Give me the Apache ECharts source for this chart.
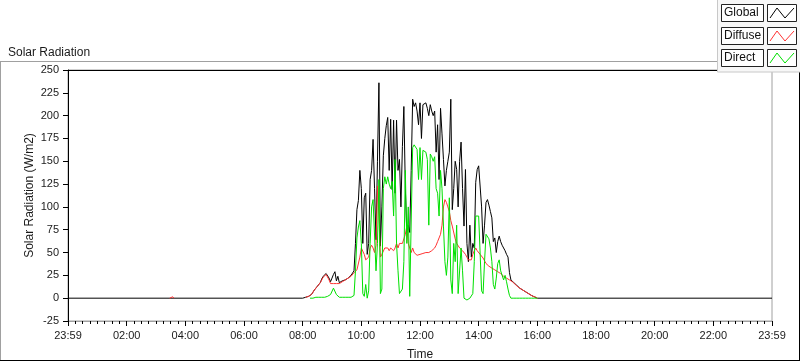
<!DOCTYPE html>
<html>
<head>
<meta charset="utf-8">
<script src="https://cdn.jsdelivr.net/npm/echarts@6.0.0/dist/echarts.min.js"></script>
<style>
  html, body { margin: 0; padding: 0; background: #fff; }
  #chart { width: 800px; height: 361px; }
</style>
</head>
<body>
<div id="chart"></div>
<script>
// 日间采样：从 08:00 开始，每 3 分钟一个点
var sampleStart = 480;
var sampleStep = 3;

// Global (W/m2)
var globalDay = [
    0, 0, 1, 2, 2, 3, 4, 6, 9,
    10, 13, 15, 17, 21, 24, 26, 27, 26, 22,
    18, 22, 26, 29, 19, 24, 17, 18, 19, 19,
    20, 21, 22, 24, 25, 27, 30, 60, 97, 107,
    140, 120, 60, 110, 115, 48, 60, 130, 140, 174,
    120, 64, 150, 236, 57, 100, 156, 175, 189, 198,
    140, 196, 119, 195, 115, 195, 140, 152, 100, 166,
    210, 120, 72, 80, 72, 140, 218, 210, 214, 205,
    190, 214, 175, 212, 210, 214, 208, 200, 212, 205,
    200, 205, 160, 190, 130, 208, 180, 152, 123, 140,
    150, 160, 218, 97, 120, 150, 141, 100, 150, 171,
    120, 79, 141, 60, 40, 80, 45, 60, 55, 127,
    141, 145, 145, 100, 60, 80, 105, 108, 102, 95,
    88, 62, 66, 50, 62, 68, 62, 58, 55, 52,
    48, 45, 28, 20, 18, 17, 15, 14, 12, 11,
    10, 9, 8, 7, 6, 5, 4, 3, 2, 1.5,
    1, 0
];

// Diffuse (W/m2)
var diffuseDay = [
    null, null, 1, 2, 2, 3, 4, 6, 9,
    10, 13, 15, 17, 20, 23, 25, 26, 24, 20,
    16, 16, 16, 16, 16, 16, 16, 17, 18, 19,
    20, 21, 22, 23, 24, 26, 28, 30, 31, 32,
    45, 55, 55, 48, 42, 42, 45, 55, 58, 55,
    50, 58, 123, 90, 45, 48, 50, 55, 55, 55,
    52, 55, 56, 52, 55, 60, 55, 60, 62, 60,
    65, 70, 79, 60, 55, 50, 55, 50, 48, 47,
    48, 48, 48, 49, 49, 50, 50, 50, 51, 52,
    54, 55, 58, 62, 66, 70, 80, 100, 108, 105,
    100, 95, 85, 79, 78, 65, 60, 58, 55, 55,
    52, 50, 48, 45, 42, 40, 42, 48, 52, 55,
    52, 50, 48, 46, 44, 42, 38, 36, 35, 34,
    33, 32, 31, 30, 29, 28, 27, 25, 24, 23,
    22, 21, 20, 19, 18, 17, 15, 14, 12, 11,
    10, 9, 8, 7, 6, 5, 4, 3, 2, 1.5,
    1, 0
];
// 凌晨 03:30 左右的小凸起
var diffuseBump = [[208, 0], [211, 1.5], [214, 1.5], [217, 0]];

// Direct (W/m2)
var directDay = [
    null, null, null, null, null, 0, 0, 0, 1,
    1, 1, 1, 1, 1, 1, 1, 2, 2, 3,
    4, 6, 11, 13, 4, 2, 1, 1, 1, 1,
    1, 1, 1, 1, 1, 2, 3, 30, 66, 78,
    85, 60, 5, 2, 15, 0, 8, 60, 100, 108,
    110, 30, 60, 130, 5, 10, 120, 133, 125, 133,
    125, 120, 128, 90, 152, 60, 30, 5, 3, 10,
    40, 140, 60, 100, 2, 0, 165, 168, 170, 163,
    130, 165, 130, 162, 163, 160, 152, 80, 158, 155,
    150, 155, 120, 115, 90, 140, 120, 79, 40, 25,
    45, 110, 20, 5, 60, 40, 80, 5, 3, 55,
    30, 0, 2, -2, -2, 0, -1, 5, 40, 90,
    92, 90, 88, 8, 5, 40, 70, 72, 65, 55,
    40, 15, 10, 22, 38, 42, 30, 28, 20, 25,
    18, 10, 3, 0, 0, 0, 0, 0, 0, 0,
    0, 0, 0, 0, 0, 0, 0, 0, 0, 0,
    0, 0
];

// 时间轴刻度（分钟）
var xMin = 0, xMax = 1440, xStep = 120;
var yMin = -25, yMax = 250, yStep = 25;

function toPairs(values) {
    return values.map(function (v, i) {
        return [sampleStart + i * sampleStep, v];
    });
}

var globalData = [[xMin, 0]].concat(toPairs(globalDay)).concat([[xMax, 0]]);
var diffuseData = diffuseBump.concat([[300, null]]).concat(toPairs(diffuseDay));
var directData = toPairs(directDay);

var font = 'Liberation Sans, Arial, sans-serif';
var textColor = '#1a1a1a';

// 图例（右上角）
function legendItem(label, color, top) {
    return [
        {
            type: 'rect', z: 101,
            shape: { x: 721.5, y: top + 0.5, width: 42, height: 17 },
            style: { fill: '#fff', stroke: '#222', lineWidth: 1 }
        },
        {
            type: 'text', z: 102, left: 724, top: top + 3,
            style: { text: label, font: '12px ' + font, fill: '#111' }
        },
        {
            type: 'rect', z: 101,
            shape: { x: 767.5, y: top + 0.5, width: 29, height: 17 },
            style: { fill: '#fff', stroke: '#222', lineWidth: 1 }
        },
        {
            type: 'polyline', z: 102,
            shape: { points: [[770, top + 14], [777, top + 4], [785, top + 14], [794, top + 4]] },
            style: { stroke: color, lineWidth: 1, fill: null }
        }
    ];
}

var graphics = [
    // 外框
    { type: 'line', z: 50, shape: { x1: 0, y1: 61.5, x2: 800, y2: 61.5 }, style: { stroke: '#a0a0a0', lineWidth: 1 } },
    { type: 'line', z: 50, shape: { x1: 0.5, y1: 61, x2: 0.5, y2: 360 }, style: { stroke: '#a0a0a0', lineWidth: 1 } },
    { type: 'line', z: 50, shape: { x1: 0, y1: 360.5, x2: 800, y2: 360.5 }, style: { stroke: '#000', lineWidth: 1 } },
    { type: 'line', z: 50, shape: { x1: 799.5, y1: 61, x2: 799.5, y2: 361 }, style: { stroke: '#000', lineWidth: 1 } },
    // 绘图区上边框
    { type: 'line', z: 50, shape: { x1: 68, y1: 70.5, x2: 772, y2: 70.5 }, style: { stroke: '#000', lineWidth: 1 } },
    // 图例底板
    {
        type: 'rect', z: 100,
        shape: { x: 717.5, y: -1, width: 84, height: 73 },
        style: { fill: '#f7f7f7', stroke: '#c8c8c8', lineWidth: 1 }
    }
].concat(legendItem('Global', '#000', 4))
 .concat(legendItem('Diffuse', '#ff3333', 27))
 .concat(legendItem('Direct', '#00e000', 49));

var myChart = echarts.init(document.getElementById('chart'));
var option = {
    animation: false,
    backgroundColor: '#fff',
    title: {
        text: 'Solar Radiation',
        left: 3, top: 42,
        textStyle: { fontFamily: font, fontSize: 12, fontWeight: 'normal', color: textColor }
    },
    grid: {
        left: 68, right: 28, top: 70, bottom: 40,
        outerBoundsMode: 'none',
        show: true, borderColor: '#a0a0a0', borderWidth: 1, backgroundColor: '#fff'
    },
    xAxis: {
        type: 'value',
        min: xMin, max: xMax, interval: xStep,
        name: 'Time',
        nameLocation: 'middle',
        nameGap: 28,
        nameMoveOverlap: false,
        nameTextStyle: { fontFamily: font, fontSize: 12, color: textColor },
        axisLine: { show: true, onZero: false, lineStyle: { color: '#a0a0a0', width: 1 } },
        axisTick: { show: true, length: 5, lineStyle: { color: '#000' } },
        minorTick: { show: true, splitNumber: 8, length: 3, lineStyle: { color: '#000' } },
        splitLine: { show: false },
        axisLabel: {
            margin: 9,
            fontFamily: font, fontSize: 11, color: textColor,
            formatter: function (v) {
                if (v === xMin || v === xMax) return '23:59';
                var h = v / 60;
                return (h < 10 ? '0' : '') + h + ':00';
            }
        }
    },
    yAxis: {
        type: 'value',
        min: yMin, max: yMax, interval: yStep,
        name: 'Solar Radiation (W/m2)',
        nameLocation: 'middle',
        nameGap: 32,
        nameMoveOverlap: false,
        nameTextStyle: { fontFamily: font, fontSize: 12, color: textColor },
        axisLine: { show: true, onZero: false, lineStyle: { color: '#000', width: 1 } },
        axisTick: { show: true, length: 5, lineStyle: { color: '#000' } },
        splitLine: { show: false },
        axisLabel: { margin: 9, fontFamily: font, fontSize: 11, color: textColor }
    },
    graphic: graphics,
    series: [
        {
            name: 'Global', type: 'line', data: globalData,
            showSymbol: false, symbol: 'none',
            lineStyle: { color: '#000', width: 1 }, itemStyle: { color: '#000' }
        },
        {
            name: 'Diffuse', type: 'line', data: diffuseData,
            showSymbol: false, symbol: 'none', connectNulls: false,
            lineStyle: { color: '#ff3333', width: 1 }, itemStyle: { color: '#ff3333' }
        },
        {
            name: 'Direct', type: 'line', data: directData,
            showSymbol: false, symbol: 'none', connectNulls: false,
            lineStyle: { color: '#00e000', width: 1 }, itemStyle: { color: '#00e000' }
        }
    ]
};
myChart.setOption(option);
</script>
</body>
</html>
